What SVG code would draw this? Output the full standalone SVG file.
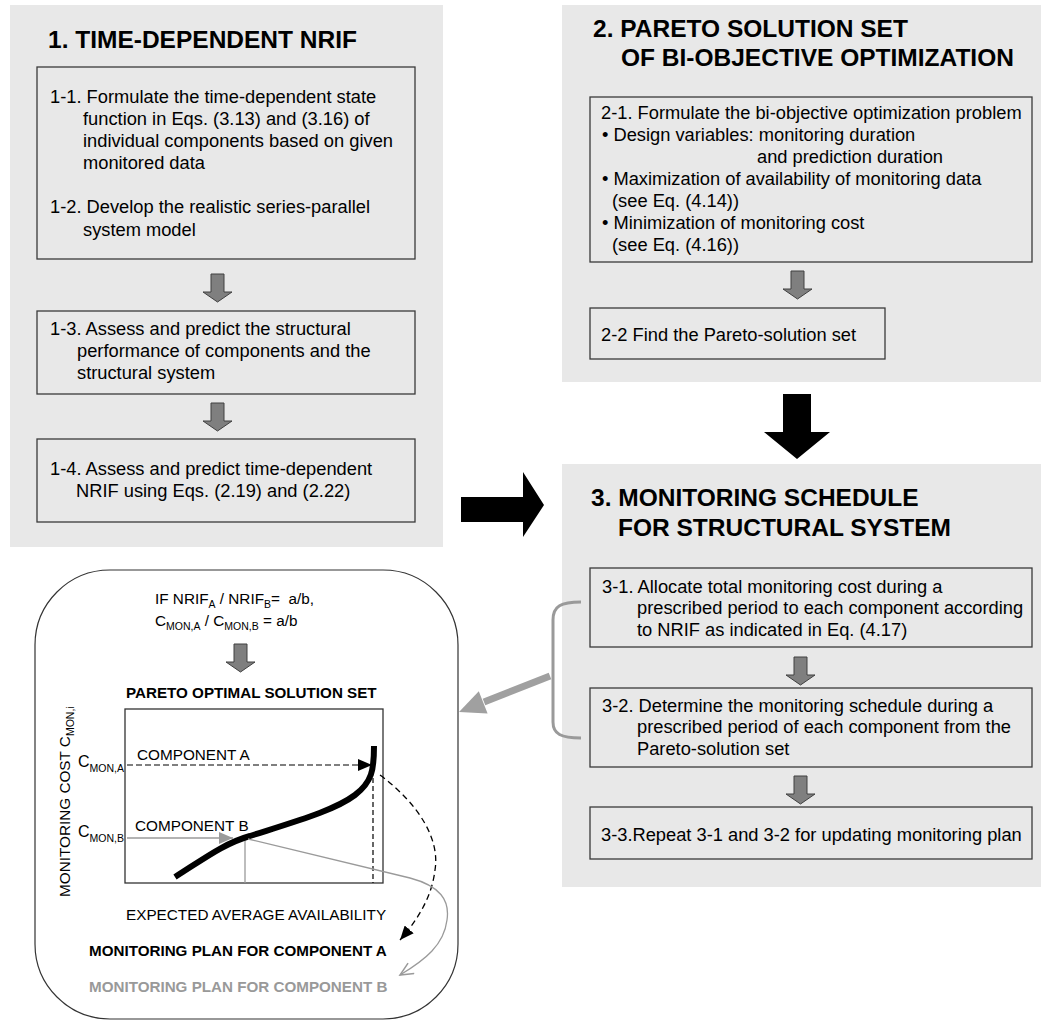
<svg xmlns="http://www.w3.org/2000/svg" width="1041" height="1021" viewBox="0 0 1041 1021">
<style>
text{font-family:"Liberation Sans",Arial,sans-serif;fill:#000}
.ttl{font-size:24.5px;font-weight:bold}
.body{font-size:18.3px}
.sm{font-size:15.3px}
.smb{font-size:15.2px;font-weight:bold}
.panel{fill:#e8e8e8;stroke:none}
.box{fill:none;stroke:#3a3a3a;stroke-width:1.3}
.garrow{fill:#7f7f7f;stroke:#404040;stroke-width:1}
.barrow{fill:#000;stroke:none}
</style>
<defs>
<path id="ga" class="garrow" d="M-6.5,0 H6.5 V18 H14.5 L0,28 L-14.5,18 H-6.5 Z"/>
<marker id="mBlack" markerUnits="userSpaceOnUse" markerWidth="14" markerHeight="12" refX="14" refY="6" orient="auto">
<path d="M0,0 L14,6 L0,12 Z" fill="#000" stroke="none"/>
</marker>
<marker id="mGray" markerUnits="userSpaceOnUse" markerWidth="14" markerHeight="12" refX="14" refY="6" orient="auto">
<path d="M0,0 L14,6 L0,12 Z" fill="#9a9a9a" stroke="none"/>
</marker>
<marker id="mGrayOpen" markerUnits="userSpaceOnUse" markerWidth="16" markerHeight="14" refX="14" refY="7" orient="auto">
<path d="M1,1 L14,7 L1,13" fill="none" stroke="#9a9a9a" stroke-width="1.5"/>
</marker>
</defs>

<g id="panel1">
<rect class="panel" x="10" y="5" width="433" height="542"/>
<text class="ttl" x="48" y="48">1. TIME-DEPENDENT NRIF</text>
</g>
<g id="step1-1-2">
<rect class="box" x="37" y="67" width="378" height="192"/>
<text class="body" x="50" y="103">1-1. Formulate the time-dependent state</text>
<text class="body" x="83" y="125">function in Eqs. (3.13) and (3.16) of</text>
<text class="body" x="83" y="147">individual components based on given</text>
<text class="body" x="83" y="169">monitored data</text>
<text class="body" x="50" y="213">1-2. Develop the realistic series-parallel</text>
<text class="body" x="83" y="236">system model</text>
</g>
<g id="step1-3">
<rect class="box" x="37" y="311" width="378" height="83"/>
<text class="body" x="50" y="335">1-3. Assess and predict the structural</text>
<text class="body" x="77" y="357">performance of components and the</text>
<text class="body" x="77" y="379">structural system</text>
</g>
<g id="step1-4">
<rect class="box" x="37" y="439" width="378" height="83"/>
<text class="body" x="50" y="475">1-4. Assess and predict time-dependent</text>
<text class="body" x="76" y="497">NRIF using Eqs. (2.19) and (2.22)</text>
</g>

<g id="panel2">
<rect class="panel" x="562" y="5" width="479" height="377"/>
<text class="ttl" x="593" y="37">2. PARETO SOLUTION SET</text>
<text class="ttl" x="621" y="66">OF BI-OBJECTIVE OPTIMIZATION</text>
</g>
<g id="step2-1">
<rect class="box" x="590" y="97" width="442" height="165"/>
<text class="body" x="601" y="119">2-1. Formulate the bi-objective optimization problem</text>
<text class="body" x="602" y="141">• Design variables: monitoring duration</text>
<text class="body" x="757" y="163">and prediction duration</text>
<text class="body" x="602" y="185">• Maximization of availability of monitoring data</text>
<text class="body" x="612" y="207">(see Eq. (4.14))</text>
<text class="body" x="602" y="229">• Minimization of monitoring cost</text>
<text class="body" x="612" y="251">(see Eq. (4.16))</text>
</g>
<g id="step2-2">
<rect class="box" x="590" y="308" width="295" height="51"/>
<text class="body" x="601" y="341">2-2 Find the Pareto-solution set</text>
</g>

<g id="panel3">
<rect class="panel" x="562" y="464" width="479" height="423"/>
<text class="ttl" x="591" y="506">3. MONITORING SCHEDULE</text>
<text class="ttl" x="618" y="536">FOR STRUCTURAL SYSTEM</text>
</g>
<g id="step3-1">
<rect class="box" x="590" y="568" width="442" height="79"/>
<text class="body" x="602" y="593">3-1. Allocate total monitoring cost during a</text>
<text class="body" x="637" y="614">prescribed period to each component according</text>
<text class="body" x="637" y="636">to NRIF as indicated in Eq. (4.17)</text>
</g>
<g id="step3-2">
<rect class="box" x="590" y="688" width="442" height="79"/>
<text class="body" x="602" y="712">3-2. Determine the monitoring schedule during a</text>
<text class="body" x="637" y="733">prescribed period of each component from the</text>
<text class="body" x="637" y="755">Pareto-solution set</text>
</g>
<g id="step3-3">
<rect class="box" x="590" y="807" width="442" height="52"/>
<text class="body" x="601" y="841">3-3.Repeat 3-1 and 3-2 for updating monitoring plan</text>
</g>

<g id="illustration">
<rect x="35" y="570" width="423" height="449" rx="75" ry="75" fill="#fff" stroke="#333" stroke-width="1.2"/>
<text class="sm" x="155" y="604" style="white-space:pre">IF NRIF<tspan font-size="10.5" dy="4">A</tspan><tspan dy="-4"> / NRIF</tspan><tspan font-size="10.5" dy="4">B</tspan><tspan dy="-4">=  a/b,</tspan></text>
<text class="sm" x="155" y="626">C<tspan font-size="10.5" dy="4">MON,A</tspan><tspan dy="-4"> / C</tspan><tspan font-size="10.5" dy="4">MON,B</tspan><tspan dy="-4"> = a/b</tspan></text>
<text class="smb" x="126" y="698">PARETO OPTIMAL SOLUTION SET</text>
<rect x="125" y="709" width="258" height="174" fill="none" stroke="#333" stroke-width="1.3"/>
<text class="sm" transform="translate(70,897) rotate(-90)">MONITORING COST C<tspan font-size="10.5" dy="4">MON,i</tspan></text>
<text x="78" y="767" font-size="16">C<tspan font-size="10.5" dy="5">MON,A</tspan></text>
<text x="78" y="837" font-size="16">C<tspan font-size="10.5" dy="5">MON,B</tspan></text>
<text class="sm" x="137" y="760">COMPONENT A</text>
<text class="sm" x="135" y="831">COMPONENT B</text>
<text class="sm" x="126" y="920">EXPECTED AVERAGE AVAILABILITY</text>
<text class="smb" x="89" y="956">MONITORING PLAN FOR COMPONENT A</text>
<text class="smb" x="89" y="992" style="fill:#999">MONITORING PLAN FOR COMPONENT B</text>
<line x1="245" y1="839" x2="245" y2="883" stroke="#9a9a9a" stroke-width="1.3"/>
<line x1="373" y1="778" x2="373" y2="883" stroke="#000" stroke-width="1.2" stroke-dasharray="5,3"/>
<path d="M175,877 C205,858 225,843 250,836 C300,820 335,810 355,795 C372,782 374,770 374,746" fill="none" stroke="#000" stroke-width="6"/>
</g>

<g id="connectors">
<use href="#ga" x="217.5" y="274"/>
<use href="#ga" x="217.5" y="403"/>
<use href="#ga" x="797.5" y="271"/>
<use href="#ga" x="800.5" y="657"/>
<use href="#ga" x="800.5" y="776"/>
<use href="#ga" x="240.5" y="644"/>
<path class="barrow" d="M461,497 H523 V472 L544,505 L523,537 V522 H461 Z"/>
<path class="barrow" d="M783,394 H811 V432 H830 L797,459 L764,432 H783 Z"/>
<path d="M581,602 C561,602 553,606 553,620 L553,722 C553,734 561,738 581,738" fill="none" stroke="#9a9a9a" stroke-width="3"/>
<line x1="550" y1="676" x2="484" y2="702" stroke="#a0a0a0" stroke-width="7"/>
<path d="M459,712 L478.8,691.2 L487.6,713.6 Z" fill="#a0a0a0"/>
<line x1="127" y1="765" x2="372" y2="765" stroke="#000" stroke-width="1.2" stroke-dasharray="6,3" marker-end="url(#mBlack)"/>
<line x1="127" y1="838" x2="233" y2="838" stroke="#9a9a9a" stroke-width="1.3" marker-end="url(#mGray)"/>
<path d="M380,775 C420,805 440,840 435,870 C432,895 420,917 400,940" fill="none" stroke="#000" stroke-width="1.3" stroke-dasharray="6,4" marker-end="url(#mBlack)"/>
<path d="M248,839 L410,878 C440,886 450,900 447,920 C444,945 425,960 400,975" fill="none" stroke="#9a9a9a" stroke-width="1.3" marker-end="url(#mGrayOpen)"/>
</g>
</svg>
